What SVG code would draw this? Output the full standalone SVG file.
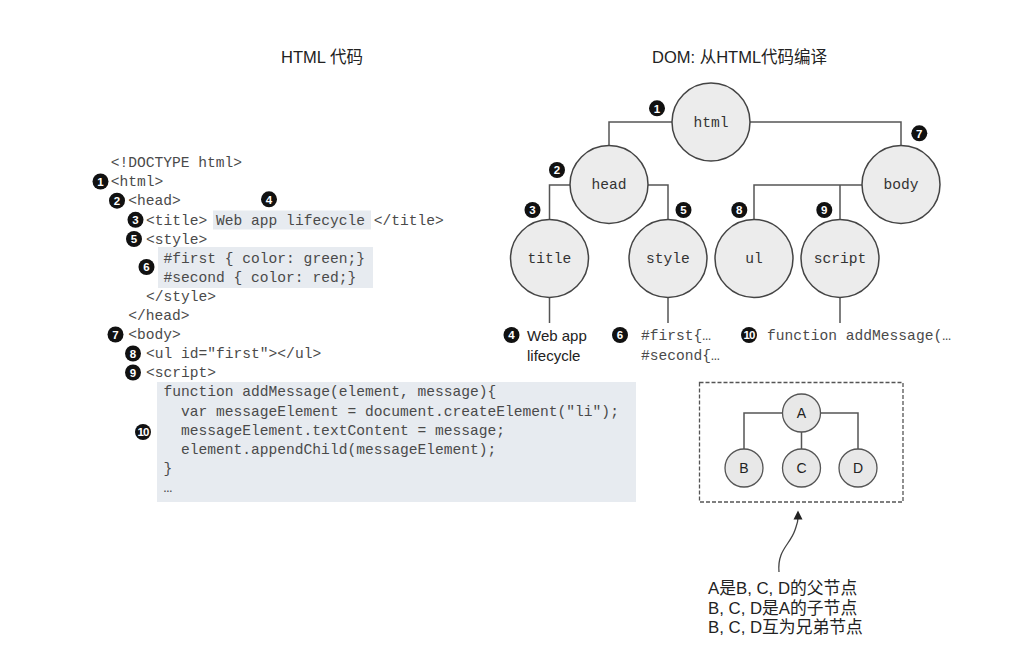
<svg xmlns="http://www.w3.org/2000/svg" width="1019" height="657" viewBox="0 0 1019 657">
<style>
.code{font-family:"Liberation Mono","Courier New",monospace;font-size:14.6px;fill:#4a4a4a}
.title{font-family:"Liberation Sans","Noto Sans CJK SC",sans-serif;font-size:16.5px;fill:#222}
.sans{font-family:"Liberation Sans",Arial,sans-serif;font-size:15px;fill:#222}
.note{font-family:"Liberation Sans","Noto Sans CJK SC",sans-serif;font-size:16.8px;fill:#222}
.hl{fill:#e7ebf0}
.node circle{fill:#ececec;stroke:#444;stroke-width:1.5}
.node text{font-family:"Liberation Mono","Courier New",monospace;font-size:14.6px;fill:#333;text-anchor:middle}
.snode circle{fill:#e8e8e8;stroke:#555;stroke-width:1.3}
.snode text{font-family:"Liberation Sans",Arial,sans-serif;font-size:14px;fill:#222;text-anchor:middle}
.conn{fill:none;stroke:#555;stroke-width:1.5}
.badge circle{fill:#111}
.badge text{font-family:"Liberation Sans",Arial,sans-serif;font-size:11.5px;font-weight:bold;fill:#fff;text-anchor:middle}
</style>
<rect width="1019" height="657" fill="#fff"/>

<!-- Titles -->
<text class="title" x="281" y="63">HTML 代码</text>
<text class="title" x="652" y="63">DOM: 从HTML代码编译</text>

<!-- Left code -->
<g id="code">
<rect class="hl" x="213" y="210.5" width="158" height="19"/>
<rect class="hl" x="158" y="247" width="215" height="41"/>
<rect class="hl" x="157" y="382" width="479" height="120"/>
<text class="code" x="110.7" y="167.2">&lt;!DOCTYPE html&gt;</text>
<text class="code" x="110.7" y="186.3">&lt;html&gt;</text>
<text class="code" x="128.3" y="205.4">&lt;head&gt;</text>
<text class="code" x="146" y="224.5">&lt;title&gt; Web app lifecycle &lt;/title&gt;</text>
<text class="code" x="146" y="243.6">&lt;style&gt;</text>
<text class="code" x="163.5" y="262.7">#first { color: green;}</text>
<text class="code" x="163.5" y="281.8">#second { color: red;}</text>
<text class="code" x="146" y="300.9">&lt;/style&gt;</text>
<text class="code" x="128.3" y="320">&lt;/head&gt;</text>
<text class="code" x="128.3" y="339.1">&lt;body&gt;</text>
<text class="code" x="146" y="358.2">&lt;ul id="first"&gt;&lt;/ul&gt;</text>
<text class="code" x="146" y="377.3">&lt;script&gt;</text>
<text class="code" x="163.5" y="396.4">function addMessage(element, message){</text>
<text class="code" x="181" y="415.5">var messageElement = document.createElement("li");</text>
<text class="code" x="181" y="434.6">messageElement.textContent = message;</text>
<text class="code" x="181" y="453.7">element.appendChild(messageElement);</text>
<text class="code" x="163.5" y="472.8">}</text>
<text class="code" x="163.5" y="491.9">…</text>
</g>

<!-- Left badges -->
<g id="code-badges" class="badge">
<g transform="translate(100.5,181.5)"><circle r="8"/><text y="4.2">1</text></g>
<g transform="translate(117,200.7)"><circle r="8"/><text y="4.2">2</text></g>
<g transform="translate(135.5,219.8)"><circle r="8"/><text y="4.2">3</text></g>
<g transform="translate(269,199.3)"><circle r="8"/><text y="4.2">4</text></g>
<g transform="translate(134,239)"><circle r="8"/><text y="4.2">5</text></g>
<g transform="translate(146.5,267)"><circle r="8"/><text y="4.2">6</text></g>
<g transform="translate(115.5,334.5)"><circle r="8"/><text y="4.2">7</text></g>
<g transform="translate(133,353.5)"><circle r="8"/><text y="4.2">8</text></g>
<g transform="translate(133,372.5)"><circle r="8"/><text y="4.2">9</text></g>
<g transform="translate(143,432)"><circle r="8"/><text y="4" font-size="10.5" letter-spacing="-0.9">10</text></g>
</g>

<!-- Tree connectors -->
<g id="connectors" class="conn">
<path d="M672,122 H609 V146"/>
<path d="M750,122 H901 V146"/>
<path d="M570,185 H549.5 V219.5"/>
<path d="M648,185 H668 V219.5"/>
<path d="M862,185 H754 V219.5"/>
<path d="M840,185 V219.5"/>
<path d="M549.5,297.5 V323"/>
<path d="M668,297.5 V323"/>
<path d="M840,297.5 V323"/>
<path d="M744,449 V413 H858 V449"/>
<path d="M801.5,432 V449"/>
<path d="M779,572 C777,550 790,545 795,530 C797,524 798,522 798,518" stroke="#444" stroke-width="1.3"/>
</g>
<polygon points="798,510.5 802.5,519.5 793.5,519.5" fill="#222"/>

<!-- Tree nodes -->
<g id="n-html" class="node"><circle cx="711" cy="122" r="39"/><text x="711" y="126.5">html</text></g>
<g id="n-head" class="node"><circle cx="609" cy="184.5" r="39"/><text x="609" y="189">head</text></g>
<g id="n-body" class="node"><circle cx="901" cy="184.5" r="39"/><text x="901" y="189">body</text></g>
<g id="n-title" class="node"><circle cx="549.5" cy="258.5" r="39"/><text x="549.5" y="263">title</text></g>
<g id="n-style" class="node"><circle cx="668" cy="258.5" r="39"/><text x="668" y="263">style</text></g>
<g id="n-ul" class="node"><circle cx="754" cy="258.5" r="39"/><text x="754" y="263">ul</text></g>
<g id="n-script" class="node"><circle cx="840" cy="258.5" r="39"/><text x="840" y="263">script</text></g>

<!-- Tree badges -->
<g id="tree-badges" class="badge">
<g transform="translate(657,108.3)"><circle r="8"/><text y="4.2">1</text></g>
<g transform="translate(557,170)"><circle r="8"/><text y="4.2">2</text></g>
<g transform="translate(532.5,210)"><circle r="8"/><text y="4.2">3</text></g>
<g transform="translate(683.5,210)"><circle r="8"/><text y="4.2">5</text></g>
<g transform="translate(919.3,133.3)"><circle r="8"/><text y="4.2">7</text></g>
<g transform="translate(739.3,210)"><circle r="8"/><text y="4.2">8</text></g>
<g transform="translate(824.3,210)"><circle r="8"/><text y="4.2">9</text></g>
<g transform="translate(511.5,335)"><circle r="8"/><text y="4.2">4</text></g>
<g transform="translate(620,335)"><circle r="8"/><text y="4.2">6</text></g>
<g transform="translate(749,335)"><circle r="8"/><text y="4" font-size="10.5" letter-spacing="-0.9">10</text></g>
</g>

<!-- Leaf labels -->
<g id="leaf-labels">
<text class="sans" x="527" y="340.5">Web app</text>
<text class="sans" x="527" y="361">lifecycle</text>
<text class="code" x="641" y="339.5">#first{…</text>
<text class="code" x="641" y="359.5">#second{…</text>
<text class="code" x="767" y="339.5">function addMessage(…</text>
</g>

<!-- Legend box -->
<rect x="699.5" y="382.5" width="203.5" height="119.5" fill="none" stroke="#555" stroke-width="1.3" stroke-dasharray="4 2"/>
<g id="n-A" class="snode"><circle cx="801.5" cy="413" r="19"/><text x="801.5" y="418">A</text></g>
<g id="n-B" class="snode"><circle cx="744" cy="468" r="19"/><text x="744" y="473">B</text></g>
<g id="n-C" class="snode"><circle cx="801.5" cy="468" r="19"/><text x="801.5" y="473">C</text></g>
<g id="n-D" class="snode"><circle cx="858" cy="468" r="19"/><text x="858" y="473">D</text></g>

<!-- Annotation -->
<g id="note">
<text class="note" x="708" y="594">A是B, C, D的父节点</text>
<text class="note" x="708" y="613.5">B, C, D是A的子节点</text>
<text class="note" x="708" y="633">B, C, D互为兄弟节点</text>
</g>
</svg>
